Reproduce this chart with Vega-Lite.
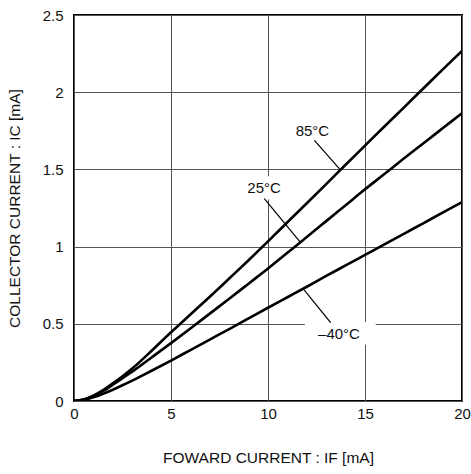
{
  "$schema": "https://vega.github.io/schema/vega-lite/v6.json",
  "width": 388,
  "height": 386,
  "autosize": {"type": "none"},
  "padding": {"left": 74, "top": 15, "right": 9, "bottom": 73},
  "background": "white",
  "config": {
    "view": {"stroke": "black", "strokeWidth": 2},
    "font": "Liberation Sans",
    "axis": {
      "domain": false,
      "ticks": false,
      "tickSize": 0,
      "grid": true,
      "gridColor": "#555555",
      "gridWidth": 1,
      "labelFont": "Liberation Sans",
      "labelFontSize": 15,
      "labelColor": "#111111",
      "labelFlush": false,
      "labelOverlap": false,
      "titleFont": "Liberation Sans",
      "titleFontSize": 15.5,
      "titleFontWeight": "normal",
      "titleColor": "#111111"
    }
  },
  "datasets": {
    "curves": [
      {"series": "85°C", "x": 0, "y": 0},
      {"series": "85°C", "x": 0.5, "y": 0.01},
      {"series": "85°C", "x": 1, "y": 0.035},
      {"series": "85°C", "x": 1.5, "y": 0.07},
      {"series": "85°C", "x": 2, "y": 0.115},
      {"series": "85°C", "x": 2.5, "y": 0.16},
      {"series": "85°C", "x": 3, "y": 0.21},
      {"series": "85°C", "x": 4, "y": 0.325},
      {"series": "85°C", "x": 5, "y": 0.445},
      {"series": "85°C", "x": 6, "y": 0.56},
      {"series": "85°C", "x": 7, "y": 0.675},
      {"series": "85°C", "x": 8, "y": 0.793},
      {"series": "85°C", "x": 9, "y": 0.912},
      {"series": "85°C", "x": 10, "y": 1.034},
      {"series": "85°C", "x": 11, "y": 1.158},
      {"series": "85°C", "x": 12, "y": 1.281},
      {"series": "85°C", "x": 13, "y": 1.405},
      {"series": "85°C", "x": 14, "y": 1.53},
      {"series": "85°C", "x": 15, "y": 1.654},
      {"series": "85°C", "x": 16, "y": 1.778},
      {"series": "85°C", "x": 17, "y": 1.9},
      {"series": "85°C", "x": 18, "y": 2.024},
      {"series": "85°C", "x": 19, "y": 2.146},
      {"series": "85°C", "x": 20, "y": 2.268},
      {"series": "25°C", "x": 0, "y": 0},
      {"series": "25°C", "x": 0.5, "y": 0.009},
      {"series": "25°C", "x": 1, "y": 0.032},
      {"series": "25°C", "x": 1.5, "y": 0.065},
      {"series": "25°C", "x": 2, "y": 0.105},
      {"series": "25°C", "x": 2.5, "y": 0.148},
      {"series": "25°C", "x": 3, "y": 0.19},
      {"series": "25°C", "x": 4, "y": 0.282},
      {"series": "25°C", "x": 5, "y": 0.375},
      {"series": "25°C", "x": 6, "y": 0.47},
      {"series": "25°C", "x": 7, "y": 0.566},
      {"series": "25°C", "x": 8, "y": 0.662},
      {"series": "25°C", "x": 9, "y": 0.76},
      {"series": "25°C", "x": 10, "y": 0.858},
      {"series": "25°C", "x": 11, "y": 0.96},
      {"series": "25°C", "x": 12, "y": 1.062},
      {"series": "25°C", "x": 13, "y": 1.165},
      {"series": "25°C", "x": 14, "y": 1.268},
      {"series": "25°C", "x": 15, "y": 1.371},
      {"series": "25°C", "x": 16, "y": 1.47},
      {"series": "25°C", "x": 17, "y": 1.57},
      {"series": "25°C", "x": 18, "y": 1.668},
      {"series": "25°C", "x": 19, "y": 1.766},
      {"series": "25°C", "x": 20, "y": 1.864},
      {"series": "-40°C", "x": 0, "y": 0},
      {"series": "-40°C", "x": 0.5, "y": 0.007},
      {"series": "-40°C", "x": 1, "y": 0.024},
      {"series": "-40°C", "x": 1.5, "y": 0.047},
      {"series": "-40°C", "x": 2, "y": 0.073},
      {"series": "-40°C", "x": 2.5, "y": 0.102},
      {"series": "-40°C", "x": 3, "y": 0.132},
      {"series": "-40°C", "x": 4, "y": 0.196},
      {"series": "-40°C", "x": 5, "y": 0.262},
      {"series": "-40°C", "x": 6, "y": 0.33},
      {"series": "-40°C", "x": 7, "y": 0.398},
      {"series": "-40°C", "x": 8, "y": 0.466},
      {"series": "-40°C", "x": 9, "y": 0.535},
      {"series": "-40°C", "x": 10, "y": 0.604},
      {"series": "-40°C", "x": 11, "y": 0.672},
      {"series": "-40°C", "x": 12, "y": 0.74},
      {"series": "-40°C", "x": 13, "y": 0.81},
      {"series": "-40°C", "x": 14, "y": 0.878},
      {"series": "-40°C", "x": 15, "y": 0.946},
      {"series": "-40°C", "x": 16, "y": 1.014},
      {"series": "-40°C", "x": 17, "y": 1.083},
      {"series": "-40°C", "x": 18, "y": 1.151},
      {"series": "-40°C", "x": 19, "y": 1.22},
      {"series": "-40°C", "x": 20, "y": 1.288}
    ],
    "boxes": [
      {"x1": 11.9, "x2": 15.55, "y1": 0.365, "y2": 0.512},
      {"x1": 8.75, "x2": 10.9, "y1": 1.305, "y2": 1.456}
    ],
    "leaders": [
      {"x1": 12.39, "y1": 1.688, "x2": 13.71, "y2": 1.5},
      {"x1": 9.81, "y1": 1.31, "x2": 11.65, "y2": 1.03},
      {"x1": 11.86, "y1": 0.72, "x2": 13.23, "y2": 0.508}
    ],
    "labels": [
      {"x": 12.29, "y": 1.75, "text": "85°C"},
      {"x": 9.8, "y": 1.377, "text": "25°C"},
      {"x": 13.66, "y": 0.435, "text": "–40°C"}
    ]
  },
  "layer": [
    {
      "data": {"name": "boxes"},
      "mark": {"type": "rect", "fill": "white", "stroke": null},
      "encoding": {
        "x": {"field": "x1", "type": "quantitative", "scale": {"domain": [0, 20], "nice": false}, "axis": {"values": [0, 5, 10, 15, 20], "title": "FOWARD CURRENT : IF [mA]", "labelPadding": 5, "titlePadding": 29}},
        "x2": {"field": "x2"},
        "y": {"field": "y1", "type": "quantitative", "scale": {"domain": [0, 2.5], "nice": false}, "axis": {"values": [0, 0.5, 1, 1.5, 2, 2.5], "format": "~g", "title": "COLLECTOR CURRENT : IC [mA]", "labelPadding": 11, "titlePadding": 20}},
        "y2": {"field": "y2"}
      }
    },
    {
      "data": {"name": "curves"},
      "mark": {"type": "line", "color": "black", "strokeWidth": 2.6, "clip": true, "interpolate": "monotone"},
      "encoding": {
        "x": {"field": "x", "type": "quantitative"},
        "y": {"field": "y", "type": "quantitative"},
        "detail": {"field": "series"}
      }
    },
    {
      "data": {"name": "leaders"},
      "mark": {"type": "rule", "color": "black", "strokeWidth": 1.2},
      "encoding": {
        "x": {"field": "x1", "type": "quantitative"},
        "y": {"field": "y1", "type": "quantitative"},
        "x2": {"field": "x2"},
        "y2": {"field": "y2"}
      }
    },
    {
      "data": {"name": "labels"},
      "mark": {"type": "text", "font": "Liberation Sans", "fontSize": 15, "color": "#111111", "align": "center", "baseline": "middle"},
      "encoding": {
        "x": {"field": "x", "type": "quantitative"},
        "y": {"field": "y", "type": "quantitative"},
        "text": {"field": "text"}
      }
    }
  ]
}
